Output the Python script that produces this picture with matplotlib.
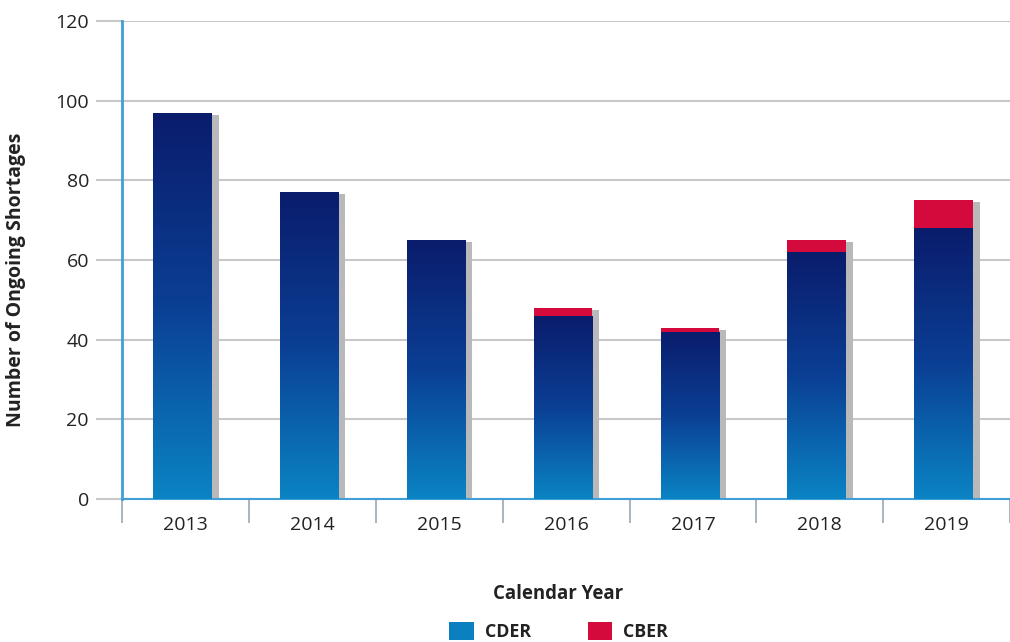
#!/usr/bin/env python3

import matplotlib
matplotlib.use('Agg')
import matplotlib.pyplot as plt
from matplotlib.colors import LinearSegmentedColormap
from matplotlib.patches import Patch
import numpy as np

years = ['2013', '2014', '2015', '2016', '2017', '2018', '2019']
cder = [97, 77, 65, 46, 42, 62, 68]
cber = [0, 0, 0, 2, 1, 3, 7]

plt.rcParams['font.family'] = ['Open Sans', 'DejaVu Sans']

BLUE_AXIS = '#3f9fd6'
GRID = '#c8c8c8'
RED = '#d40a3c'
SHADOW = '#b9b9bc'
TEXT = '#222222'
grad = LinearSegmentedColormap.from_list('cder', ['#0a84c4', '#0b3f94', '#0a1c6c'])


def main():
    fig = plt.figure(figsize=(10.10, 6.42), dpi=100)
    ax = fig.add_axes([0.121, 0.223, 0.879, 0.744])

    x = np.arange(len(years)) - 0.025
    width = 0.46
    shift = 0.055
    totals = [a + b for a, b in zip(cder, cber)]

    # drop shadow behind each bar
    ax.bar(x + shift, [t - 0.5 for t in totals], width, color=SHADOW, zorder=2)

    bars = ax.bar(x, cder, width, color='none', zorder=3)
    ax.bar(x, cber, width, bottom=cder, color=RED, zorder=3)

    # vertical gradient fill for CDER bars, light at the bottom, navy at the top
    img = np.linspace(0, 1, 256).reshape(-1, 1)
    for b in bars:
        bx = b.get_x()
        im = ax.imshow(img, cmap=grad, aspect='auto', origin='lower',
                       extent=[bx, bx + b.get_width(), 0, b.get_height()],
                       zorder=3)
        im.set_clip_path(b)

    ax.set_xlim(-0.5, 6.5)
    ax.set_ylim(0, 120)
    ax.set_yticks(range(0, 121, 20))
    ax.set_xticks(np.arange(len(years)))
    ax.set_xticklabels(years, fontsize=14, color=TEXT)
    ax.set_xticks(np.arange(-0.5, 7, 1), minor=True)
    ax.tick_params(axis='x', which='major', length=0, pad=12)
    ax.tick_params(axis='x', which='minor', length=17, width=1.2, color='#9aa8b4')
    ax.tick_params(axis='y', length=19, width=1.5, color=GRID, labelsize=14,
                   labelcolor=TEXT, pad=5)

    ax.grid(axis='y', color=GRID, linewidth=1.5, zorder=0)
    ax.set_axisbelow(True)
    for side in ('top', 'right'):
        ax.spines[side].set_visible(False)
    ax.spines['left'].set_color(BLUE_AXIS)
    ax.spines['left'].set_linewidth(2)
    ax.spines['bottom'].set_color(BLUE_AXIS)
    ax.spines['bottom'].set_linewidth(1.5)

    ax.set_ylabel('Number of Ongoing Shortages', fontsize=14, fontweight='bold',
                  color=TEXT)
    ax.yaxis.set_label_coords(-0.108, 0.458)
    fig.text(0.553, 0.075, 'Calendar Year', fontsize=13.4, fontweight='bold',
             ha='center', va='center', color=TEXT)

    handles = [Patch(facecolor='#0a80c0', label='CDER'),
               Patch(facecolor=RED, label='CBER')]
    leg = fig.legend(handles=handles, loc='center', bbox_to_anchor=(0.553, 0.016),
                     ncol=2, frameon=False, prop={'weight': 'bold', 'size': 12.8},
                     handlelength=1.4, handleheight=1.2, columnspacing=3.2,
                     handletextpad=0.6)
    for t in leg.get_texts():
        t.set_color(TEXT)

    fig.savefig('out.png', dpi=100)
    plt.close(fig)


if __name__ == '__main__':
    main()
